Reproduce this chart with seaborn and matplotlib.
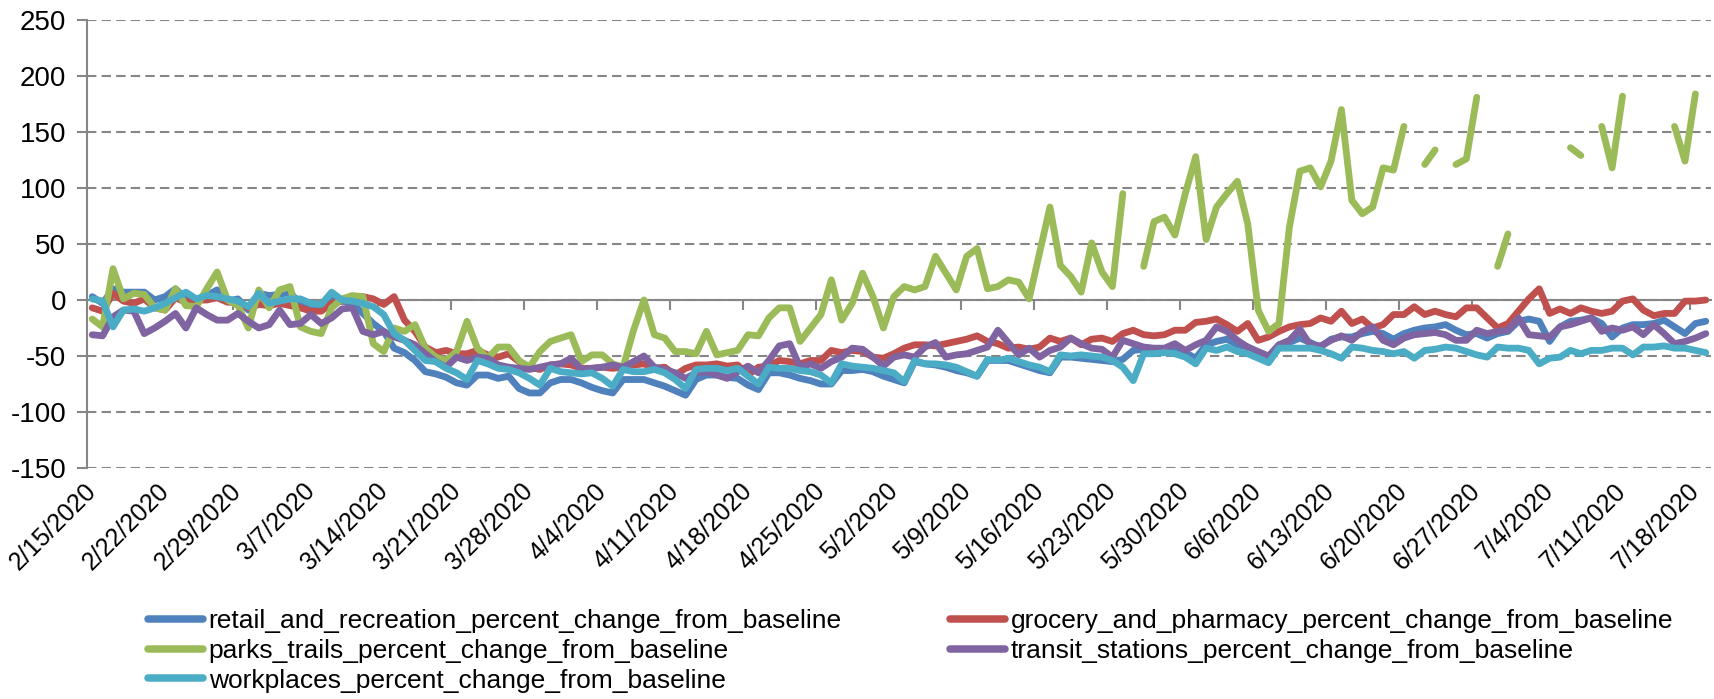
import numpy as np
import pandas as pd
import matplotlib
matplotlib.use("Agg")
import matplotlib.pyplot as plt
import seaborn as sns
from matplotlib.lines import Line2D

nan = np.nan
start_date = "2020-02-15"
n_days = 156

retail = [
    3, -3, 10, 7, 7, 7, 0, 3, 10, 1,
    0, 4, 9, -1, 1, -9, 6, 4, 5, 7,
    -4, -9, -7, 0, -1, -3, -12, -21, -28, -43,
    -47, -54, -64, -66, -69, -74, -76, -67, -67, -70,
    -68, -79, -83, -83, -74, -71, -71, -74, -78, -81,
    -83, -71, -71, -71, -74, -77, -81, -85, -71, -67,
    -67, -69, -70, -76, -80, -65, -65, -67, -70, -72,
    -75, -75, -63, -63, -62, -64, -68, -71, -74, -55,
    -57, -58, -60, -63, -65, -68, -54, -54, -54, -57,
    -60, -63, -65, -51, -51, -52, -53, -54, -55, -53,
    -45, -44, -44, -45, -44, -47, -52, -40, -37, -35,
    -40, -42, -47, -52, -40, -38, -34, -38, -42, -35,
    -33, -33, -30, -28, -30, -35, -30, -27, -25, -24,
    -22, -27, -31, -30, -34, -30, -28, -19, -17, -19,
    -37, -24, -19, -18, -16, -21, -33, -25, -22, -22,
    -21, -18, -24, -30, -21, -19,
]
grocery = [
    -7, -10, 6, -1, -3, 1, -7, -9, 2, -2,
    0, 0, 2, -2, -2, -7, -4, -5, -3, -5,
    -7, -10, -10, -3, -1, 3, 3, 1, -4, 3,
    -18, -28, -42, -47, -45, -48, -48, -45, -49, -51,
    -48, -55, -60, -62, -58, -57, -58, -61, -61, -60,
    -61, -60, -58, -57, -61, -60, -67, -61, -58, -58,
    -57, -59, -58, -67, -60, -59, -54, -55, -57, -54,
    -54, -45, -47, -45, -46, -51, -52, -48, -43, -40,
    -40, -41, -39, -37, -35, -32, -37, -39, -43, -42,
    -44, -42, -34, -37, -34, -40, -35, -34, -37, -30,
    -27, -31, -32, -31, -27, -27, -20, -19, -17, -22,
    -28, -21, -36, -33, -28, -24, -22, -21, -16, -19,
    -10, -21, -17, -25, -22, -13, -13, -6, -13, -10,
    -13, -15, -7, -7, -16, -25, -21, -10, 1, 10,
    -12, -8, -12, -7, -10, -12, -10, -1, 1, -9,
    -14, -12, -12, -1, -1, 0,
]
parks = [
    -17, -24, 28, 1, 6, 5, -7, -9, 10, -5,
    -6, 10, 25, 0, -5, -25, 9, -7, 9, 12,
    -24, -28, -30, -7, 1, 4, 3, -39, -46, -25,
    -28, -22, -43, -51, -54, -46, -19, -43, -52, -42,
    -42, -54, -60, -46, -37, -34, -31, -55, -49, -49,
    -57, -60, -27, 0, -31, -34, -46, -46, -48, -28,
    -49, -47, -45, -31, -32, -16, -7, -7, -37, -25,
    -13, 18, -18, -3, 24, 3, -25, 3, 12, 9,
    12, 39, 24, 9, 39, 46, 10, 12, 18, 16,
    1, 42, 83, 31, 21, 7, 51, 25, 12, 95,
    nan, 30, 70, 74, 58, 95, 128, 54, 83, 95,
    106, 68, -9, -28, -21, 65, 115, 118, 101, 124,
    170, 89, 77, 83, 118, 116, 155, nan, 121, 134,
    nan, 121, 126, 181, nan, 30, 59, nan, nan, nan,
    nan, nan, 136, 129, nan, 155, 118, 182, nan, nan,
    nan, nan, 155, 124, 184, nan,
]
transit = [
    -31, -32, -15, -9, -10, -30, -25, -19, -12, -25,
    -7, -13, -18, -18, -12, -19, -25, -22, -9, -22,
    -21, -13, -21, -16, -8, -7, -28, -31, -28, -33,
    -36, -40, -48, -55, -60, -51, -54, -51, -52, -58,
    -60, -61, -62, -60, -58, -57, -52, -62, -61, -60,
    -58, -60, -55, -50, -60, -62, -65, -70, -65, -64,
    -67, -70, -64, -59, -65, -54, -41, -39, -60, -57,
    -61, -55, -51, -43, -44, -51, -59, -51, -49, -51,
    -42, -38, -51, -49, -48, -45, -42, -27, -38, -49,
    -43, -51, -45, -42, -34, -39, -43, -44, -51, -36,
    -39, -42, -43, -43, -39, -45, -40, -36, -24, -28,
    -36, -42, -46, -50, -40, -36, -26, -40, -41, -36,
    -32, -36, -28, -24, -36, -40, -34, -31, -30, -29,
    -31, -36, -36, -27, -30, -28, -27, -16, -31, -32,
    -33, -24, -22, -19, -16, -28, -25, -27, -24, -31,
    -22, -30, -39, -37, -34, -30,
]
workplaces = [
    1, -1, -24, -9, -8, -10, -7, -3, 2, 7,
    1, 4, 3, 1, -1, -6, 6, -3, -1, 1,
    1, -3, -4, 7, 0, -1, -3, -6, -13, -30,
    -36, -45, -54, -55, -61, -65, -71, -54, -57, -61,
    -62, -65, -70, -76, -61, -64, -65, -66, -65, -70,
    -77, -62, -64, -64, -62, -65, -71, -79, -62, -61,
    -61, -63, -61, -68, -75, -60, -61, -61, -63, -64,
    -67, -74, -57, -59, -60, -61, -63, -65, -73, -54,
    -57, -57, -58, -60, -64, -68, -53, -54, -52, -55,
    -58, -60, -64, -49, -50, -49, -50, -51, -54, -60,
    -72, -48, -48, -47, -48, -51, -57, -43, -45, -42,
    -46, -48, -52, -56, -43, -43, -43, -43, -45, -48,
    -52, -42, -43, -45, -46, -48, -46, -52, -45, -44,
    -42, -43, -46, -49, -51, -42, -43, -43, -45, -57,
    -52, -51, -45, -48, -45, -45, -43, -43, -49, -42,
    -42, -41, -43, -43, -45, -47,
]

series_names = [
    "retail_and_recreation_percent_change_from_baseline",
    "grocery_and_pharmacy_percent_change_from_baseline",
    "parks_trails_percent_change_from_baseline",
    "transit_stations_percent_change_from_baseline",
    "workplaces_percent_change_from_baseline",
]
series_values = [retail, grocery, parks, transit, workplaces]
colors = ["#4F81BD", "#C0504D", "#9BBB59", "#8064A2", "#4BACC6"]
y_ticks = [-150, -100, -50, 0, 50, 100, 150, 200, 250]
tick_every = 7

dates = pd.date_range(start_date, periods=n_days, freq="D")
days = np.arange(n_days)

sns.set_theme(style="white")
plt.rcParams["font.family"] = ["Liberation Sans", "DejaVu Sans"]
plt.rcParams["text.color"] = "black"

fig = plt.figure(figsize=(17.15, 6.99), dpi=100)
ax = fig.add_axes([87 / 1715, 1 - 468 / 699, (1711 - 87) / 1715, (468 - 20) / 699])

grid_c = "#868686"
for name, vals, c in zip(series_names, series_values, colors):
    v = pd.Series(vals, dtype=float)
    seg = v.isna().cumsum()
    df = pd.DataFrame({"day": days, "value": v, "seg": seg}).dropna()
    sns.lineplot(data=df, x="day", y="value", units="seg", estimator=None,
                 color=c, linewidth=4.9, ax=ax, legend=False, sort=True,
                 solid_capstyle="round", solid_joinstyle="round", zorder=3)

ax.set_xlim(-0.5, n_days - 0.5)
ax.set_ylim(y_ticks[0], y_ticks[-1])
ax.set_yticks(y_ticks)
ax.set_yticklabels([str(t) for t in y_ticks])
ax.set_xlabel("")
ax.set_ylabel("")

label_days = days[::tick_every]
ax.set_xticks(label_days)
ax.set_xticklabels([f"{d.month}/{d.day}/{d.year}" for d in dates[::tick_every]],
                   rotation=45, ha="right", va="center", rotation_mode="anchor")
ax.tick_params(axis="x", length=0, pad=14, labelsize=18, labelcolor="black")
ax.tick_params(axis="y", direction="out", length=7, width=1.5, color=grid_c,
               pad=8, labelsize=20, labelcolor="black", left=True)

ax.yaxis.grid(True, color=grid_c, linestyle=(0, (4.5, 2.5)), linewidth=1.5)
ax.xaxis.grid(False)
for s in ["top", "right", "bottom"]:
    ax.spines[s].set_visible(False)
ax.spines["left"].set_color(grid_c)
ax.spines["left"].set_linewidth(1.5)

# horizontal category axis drawn at y = 0 with ticks between weeks
sec = ax.secondary_xaxis(0, transform=ax.transData)
sec.set_xticks(label_days[1:] - 0.5)
sec.tick_params(axis="x", direction="out", length=7, width=1.5, color=grid_c,
                labelbottom=False)
sec.spines["bottom"].set_color(grid_c)
sec.spines["bottom"].set_linewidth(1.5)
sec.set_zorder(1)

handles = [Line2D([], [], color=c, linewidth=5.4, solid_capstyle="round")
           for c in colors]
order = [0, 2, 4, 1, 3]
leg = fig.legend([handles[i] for i in order], [series_names[i] for i in order],
                 ncol=2, loc="upper left", bbox_to_anchor=(148 / 1715, 1 - 609 / 699),
                 bbox_transform=fig.transFigure, frameon=False, fontsize=19,
                 handlelength=2.1, handletextpad=0.2, columnspacing=4.1,
                 labelspacing=0.22, borderpad=0, borderaxespad=0)
for t in leg.get_texts():
    t.set_color("black")

fig.savefig("out.png", dpi=100)
